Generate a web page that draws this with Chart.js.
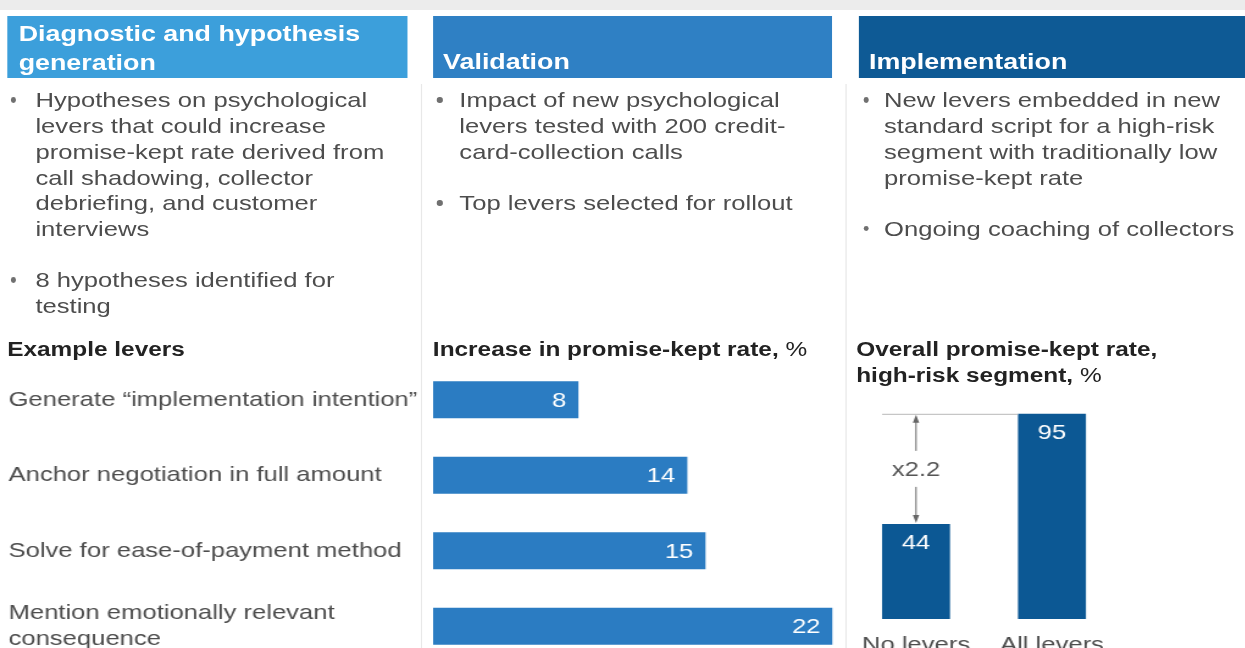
<!DOCTYPE html>
<html>
<head>
<meta charset="utf-8">
<script src="https://cdn.jsdelivr.net/npm/chart.js@4.4.1/dist/chart.umd.min.js"></script>
<style>
  html, body { margin: 0; padding: 0; background: #fff; overflow: hidden; }
  body { width: 1245px; height: 648px; position: relative; }
  /* the source artwork is stretched ~1.22x horizontally, so lay out narrow and stretch */
  #page {
    position: absolute; left: 0; top: 0; width: 1020.5px; height: 648px;
    transform: scaleX(1.22); transform-origin: 0 0;
    font-family: "Liberation Sans", Arial, Helvetica, sans-serif; color: #4d4d4d;
  }
  .band { position: absolute; left: 0; top: 0; width: 1020.5px; height: 10px; background: #ececec; }
  .head { position: absolute; top: 16px; height: 62px; }
  .head div {
    position: absolute; color: #fff; font-weight: bold; font-size: 22px;
    line-height: 30px; white-space: nowrap;
  }
  .txt { position: absolute; top: 87.4px; font-size: 21px; line-height: 25.7px; white-space: nowrap; }
  .dot { position: absolute; width: 4.6px; height: 5.5px; border-radius: 50%; background: #707070; }
  .ttl {
    position: absolute; top: 336px; font-size: 20px; line-height: 26px; font-weight: bold;
    color: #222; white-space: nowrap;
  }
  .ttl span { font-weight: normal; }
  .sep { position: absolute; top: 84px; width: 1px; height: 564px; background: #e8e8e8; }
  .box { position: absolute; }
</style>
</head>
<body>
<div id="page">
  <div class="band"></div>

  <div class="head" style="left:6.1px;width:327.5px;background:#3c9fdb;">
    <div style="left:9.2px;top:2.6px;line-height:29px;">Diagnostic and hypothesis<br>generation</div>
  </div>
  <div class="head" style="left:355.2px;width:327px;background:#2f80c4;">
    <div style="left:8px;top:31.4px;">Validation</div>
  </div>
  <div class="head" style="left:703.5px;width:317px;background:#0e5a95;">
    <div style="left:8.8px;top:31.4px;">Implementation</div>
  </div>

  <div class="sep" style="left:345.1px;"></div>
  <div class="sep" style="left:692.6px;"></div>

  <div class="dot" style="left:8.6px;top:97.3px;"></div>
  <div class="dot" style="left:8.6px;top:277.2px;"></div>
  <div class="txt" style="left:29px;">Hypotheses on psychological<br>levers that could increase<br>promise-kept rate derived from<br>call shadowing, collector<br>debriefing, and customer<br>interviews<br><br>8 hypotheses identified for<br>testing</div>

  <div class="dot" style="left:358.4px;top:97.3px;"></div>
  <div class="dot" style="left:358.4px;top:200.1px;"></div>
  <div class="txt" style="left:376.5px;">Impact of new psychological<br>levers tested with 200 credit-<br>card-collection calls<br><br>Top levers selected for rollout</div>

  <div class="dot" style="left:707.5px;top:97.3px;"></div>
  <div class="dot" style="left:707.5px;top:225.8px;"></div>
  <div class="txt" style="left:724.6px;">New levers embedded in new<br>standard script for a high-risk<br>segment with traditionally low<br>promise-kept rate<br><br>Ongoing coaching of collectors</div>

  <div class="ttl" style="left:5.9px;">Example levers</div>
  <div class="ttl" style="left:354.8px;">Increase in promise-kept rate,<span> %</span></div>
  <div class="ttl" style="left:701.8px;">Overall promise-kept rate,<br>high-risk segment,<span> %</span></div>

  <div class="box" style="left:0;top:362px;width:690px;height:302px;">
    <canvas id="leverChart" width="690" height="302"></canvas>
  </div>
  <div class="box" style="left:680px;top:380px;width:260px;height:280px;">
    <canvas id="segmentChart" width="260" height="280"></canvas>
  </div>
</div>

<script>
const FONT_FAMILY = '"Liberation Sans", Arial, Helvetica, sans-serif';
const TEXT_COLOR = "#4d4d4d";
const MID_BLUE = "#2b7cc2";
const DARK_BLUE = "#0c5894";

const LEVER_LABELS = [
  "Generate “implementation intention”",
  "Anchor negotiation in full amount",
  "Solve for ease-of-payment method",
  ["Mention emotionally relevant", "consequence"],
];
const LEVER_INCREASE = [8, 14, 15, 22];

const SEGMENT_LABELS = ["No levers", "All levers"];
const SEGMENT_RATE = [44, 95];

// white value labels sitting inside the bar end
const barValueLabels = {
  id: "barValueLabels",
  afterDatasetsDraw(chart) {
    const { ctx } = chart;
    const meta = chart.getDatasetMeta(0);
    const values = chart.data.datasets[0].data;
    const horizontal = chart.options.indexAxis === "y";
    ctx.save();
    ctx.fillStyle = "#ffffff";
    ctx.font = "21px " + FONT_FAMILY;
    ctx.textBaseline = "middle";
    meta.data.forEach((bar, i) => {
      if (horizontal) {
        ctx.textAlign = "right";
        ctx.fillText(values[i], bar.x - 10, bar.y + 1);
      } else {
        ctx.textAlign = "center";
        ctx.fillText(values[i], bar.x, bar.y + 19);
      }
    });
    ctx.restore();
  },
};

// reference line from the taller bar and a double arrow with the multiplier
const multiplierArrow = {
  id: "multiplierArrow",
  afterDatasetsDraw(chart) {
    const { ctx } = chart;
    const [low, high] = chart.getDatasetMeta(0).data;
    const values = chart.data.datasets[0].data;
    const x = low.x;
    const yTop = high.y;
    const yLow = low.y;
    const mid = (yTop + yLow) / 2;

    ctx.save();
    ctx.strokeStyle = "#b8b8b8";
    ctx.lineWidth = 1;
    ctx.beginPath();
    ctx.moveTo(low.x - low.width / 2, yTop + 0.5);
    ctx.lineTo(high.x - high.width / 2, yTop + 0.5);
    ctx.stroke();

    ctx.strokeStyle = "#666";
    ctx.beginPath();
    ctx.moveTo(x, yTop + 6);
    ctx.lineTo(x, mid - 18);
    ctx.moveTo(x, mid + 18);
    ctx.lineTo(x, yLow - 6);
    ctx.stroke();

    ctx.fillStyle = "#666";
    ctx.beginPath();
    ctx.moveTo(x, yTop + 1);
    ctx.lineTo(x - 2.6, yTop + 9);
    ctx.lineTo(x + 2.6, yTop + 9);
    ctx.closePath();
    ctx.fill();
    ctx.beginPath();
    ctx.moveTo(x, yLow - 1);
    ctx.lineTo(x - 2.6, yLow - 9);
    ctx.lineTo(x + 2.6, yLow - 9);
    ctx.closePath();
    ctx.fill();

    ctx.fillStyle = "#555";
    ctx.font = "21px " + FONT_FAMILY;
    ctx.textAlign = "center";
    ctx.textBaseline = "middle";
    ctx.fillText("x" + (values[1] / values[0]).toFixed(1), x, mid + 1);
    ctx.restore();
  },
};

new Chart(document.getElementById("leverChart"), {
  type: "bar",
  data: {
    labels: LEVER_LABELS,
    datasets: [
      {
        data: LEVER_INCREASE,
        backgroundColor: MID_BLUE,
        borderWidth: 0,
        barPercentage: 0.49,
        categoryPercentage: 1,
      },
    ],
  },
  options: {
    indexAxis: "y",
    responsive: false,
    animation: false,
    layout: { padding: { left: 7, right: 7.5, top: 0, bottom: 0 } },
    plugins: { legend: { display: false }, tooltip: { enabled: false } },
    scales: {
      x: { display: false, min: 0, max: 22 },
      y: {
        grid: { display: false },
        border: { display: false },
        ticks: {
          crossAlign: "far",
          padding: 0,
          autoSkip: false,
          color: TEXT_COLOR,
          font: { family: FONT_FAMILY, size: 21, lineHeight: 1.2 },
        },
        afterFit(scale) {
          scale.width = 348;
          scale.paddingTop = 0;
          scale.paddingBottom = 0;
        },
      },
    },
  },
  plugins: [barValueLabels],
});

new Chart(document.getElementById("segmentChart"), {
  type: "bar",
  data: {
    labels: SEGMENT_LABELS,
    datasets: [
      {
        data: SEGMENT_RATE,
        backgroundColor: DARK_BLUE,
        borderWidth: 0,
        barPercentage: 0.5,
        categoryPercentage: 1,
      },
    ],
  },
  options: {
    responsive: false,
    animation: false,
    layout: { padding: { left: 15.1, right: 22, top: 23, bottom: 11 } },
    plugins: { legend: { display: false }, tooltip: { enabled: false } },
    scales: {
      y: { display: false, min: 0, max: 100 },
      x: {
        grid: { display: false },
        border: { display: false },
        ticks: {
          padding: 6,
          color: TEXT_COLOR,
          font: { family: FONT_FAMILY, size: 21, lineHeight: 1.2 },
        },
        afterFit(scale) {
          scale.height = 30;
        },
      },
    },
  },
  plugins: [barValueLabels, multiplierArrow],
});
</script>
</body>
</html>
